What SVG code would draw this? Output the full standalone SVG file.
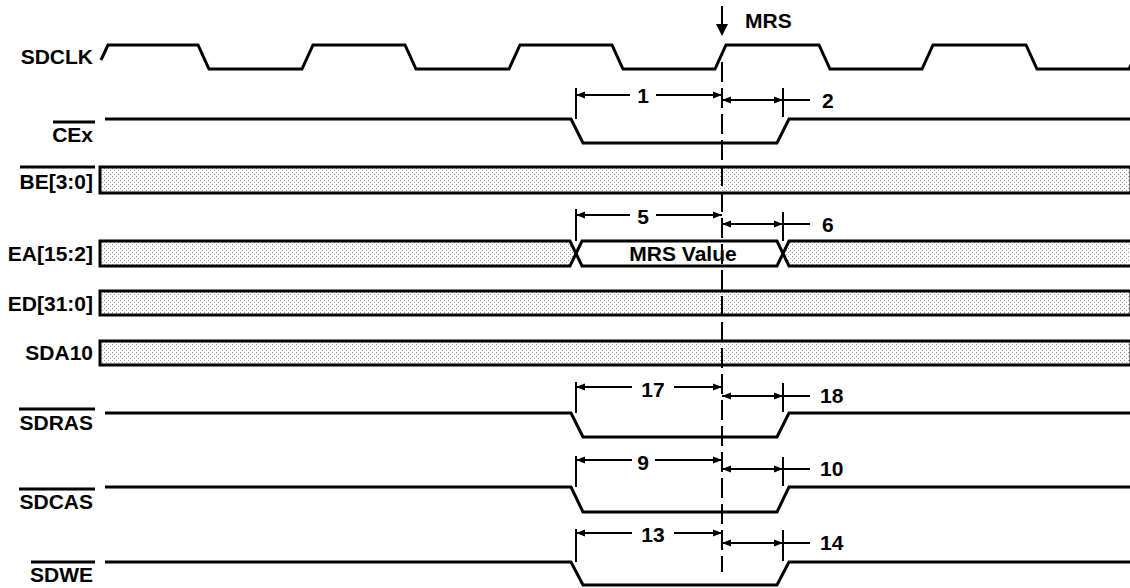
<svg xmlns="http://www.w3.org/2000/svg" width="1130" height="588" viewBox="0 0 1130 588">
<style>
.sig{fill:none;stroke:#000;stroke-width:3;stroke-linejoin:miter}
.bus{stroke:#000;stroke-width:3}
.lbl{font-family:"Liberation Sans",Arial,sans-serif;font-weight:bold;font-size:21px;fill:#000;text-anchor:end}
.num{font-family:"Liberation Sans",Arial,sans-serif;font-weight:bold;font-size:21px;fill:#000}
.ovl{stroke:#000;stroke-width:3}
.dim{stroke:#000;stroke-width:2;fill:none}
.ext{stroke:#000;stroke-width:2}
</style>
<defs>
<pattern id="hatch" width="4" height="4" patternUnits="userSpaceOnUse">
<rect width="4" height="4" fill="#fff"/>
<rect x="0" y="0" width="1" height="1" fill="#999"/>
<rect x="2" y="2" width="1" height="1" fill="#999"/>
</pattern>
<marker id="ah" viewBox="0 0 10 8" refX="10" refY="4" markerWidth="9" markerHeight="8" markerUnits="userSpaceOnUse" orient="auto-start-reverse">
<path d="M0,0 L10,4 L0,8 z" fill="#000"/>
</marker>
</defs>
<rect width="1130" height="588" fill="#fff"/>

<g id="sdclk">
<text class="lbl" x="93" y="64">SDCLK</text>
<path class="sig" d="M101,60 L108,45 L198,45 L209,69 L302,69 L313,45 L405,45 L416,69 L509,69 L520,45 L612,45 L623,69 L715,69 L726,45 L819,45 L830,69 L922,69 L933,45 L1026,45 L1037,69 L1129,69 L1131,65"/>
</g>

<g id="mrs">
<line x1="722" y1="6" x2="722" y2="28" stroke="#000" stroke-width="2"/>
<path d="M716,24 L728,24 L722,36 z" fill="#000"/>
<text class="num" x="745" y="28">MRS</text>
</g>

<g id="cex">
<text class="lbl" x="93" y="142">CEx</text>
<line class="ovl" x1="53" y1="122" x2="95" y2="122"/>
<path class="sig" d="M105,119 L571,119 L583,143 L777,143 L789,119 L1130,119"/>
</g>

<g id="be">
<text class="lbl" x="93" y="189">BE[3:0]</text>
<line class="ovl" x1="20" y1="167" x2="95" y2="167"/>
<path d="M100,167 L1131,167 L1131,193 L100,193 z" fill="url(#hatch)" class="bus"/>
</g>

<g id="ea">
<text class="lbl" x="93" y="261">EA[15:2]</text>
<path d="M100,241 L570,241 L576,253.5 L570,266 L100,266 z" fill="url(#hatch)" class="bus"/>
<path d="M576,253.5 L582,241 L777,241 L783,253.5 L777,266 L582,266 z" fill="#fff" class="bus"/>
<path d="M1131,241 L789,241 L783,253.5 L789,266 L1131,266" fill="url(#hatch)" class="bus"/>
<text class="num" x="683" y="261" text-anchor="middle">MRS Value</text>
</g>

<g id="ed">
<text class="lbl" x="93" y="311">ED[31:0]</text>
<path d="M100,291 L1131,291 L1131,315 L100,315 z" fill="url(#hatch)" class="bus"/>
</g>

<g id="sda10">
<text class="lbl" x="93" y="360">SDA10</text>
<path d="M100,341 L1131,341 L1131,365 L100,365 z" fill="url(#hatch)" class="bus"/>
</g>

<g id="sdras">
<text class="lbl" x="93" y="430">SDRAS</text>
<line class="ovl" x1="19" y1="409" x2="95" y2="409"/>
<path class="sig" d="M105,413 L571,413 L583,437 L777,437 L789,413 L1130,413"/>
</g>

<g id="sdcas">
<text class="lbl" x="93" y="509">SDCAS</text>
<line class="ovl" x1="19" y1="489" x2="95" y2="489"/>
<path class="sig" d="M105,487 L571,487 L583,512 L777,512 L789,487 L1130,487"/>
</g>

<g id="sdwe">
<text class="lbl" x="93" y="582">SDWE</text>
<line class="ovl" x1="31" y1="562" x2="95" y2="562"/>
<path class="sig" d="M105,562 L571,562 L583,585 L777,585 L789,562 L1130,562"/>
</g>

<g id="connectors">
<line x1="722" y1="62" x2="722" y2="572" stroke="#000" stroke-width="2" stroke-dasharray="20 6"/>

<line class="ext" x1="576" y1="88" x2="576" y2="119"/>
<line class="ext" x1="783" y1="88" x2="783" y2="117"/>
<line class="dim" x1="630" y1="95" x2="576" y2="95" marker-end="url(#ah)"/>
<line class="dim" x1="656" y1="95" x2="722" y2="95" marker-end="url(#ah)"/>
<text class="num" x="643" y="103" text-anchor="middle">1</text>
<line class="dim" x1="722" y1="100" x2="783" y2="100" marker-start="url(#ah)" marker-end="url(#ah)"/>
<line class="dim" x1="783" y1="100" x2="810" y2="100"/>
<text class="num" x="822" y="108">2</text>

<line class="ext" x1="576" y1="209" x2="576" y2="241"/>
<line class="ext" x1="783" y1="212" x2="783" y2="241"/>
<line class="dim" x1="630" y1="215" x2="576" y2="215" marker-end="url(#ah)"/>
<line class="dim" x1="656" y1="215" x2="722" y2="215" marker-end="url(#ah)"/>
<text class="num" x="643" y="224" text-anchor="middle">5</text>
<line class="dim" x1="722" y1="224" x2="783" y2="224" marker-start="url(#ah)" marker-end="url(#ah)"/>
<line class="dim" x1="783" y1="224" x2="810" y2="224"/>
<text class="num" x="822" y="232">6</text>

<line class="ext" x1="576" y1="382" x2="576" y2="413"/>
<line class="ext" x1="783" y1="383" x2="783" y2="412"/>
<line class="dim" x1="632" y1="387" x2="576" y2="387" marker-end="url(#ah)"/>
<line class="dim" x1="674" y1="387" x2="722" y2="387" marker-end="url(#ah)"/>
<text class="num" x="653" y="397" text-anchor="middle">17</text>
<line class="dim" x1="722" y1="396" x2="783" y2="396" marker-start="url(#ah)" marker-end="url(#ah)"/>
<line class="dim" x1="783" y1="396" x2="810" y2="396"/>
<text class="num" x="820" y="403">18</text>

<line class="ext" x1="576" y1="456" x2="576" y2="487"/>
<line class="ext" x1="783" y1="457" x2="783" y2="486"/>
<line class="dim" x1="632" y1="460" x2="576" y2="460" marker-end="url(#ah)"/>
<line class="dim" x1="655" y1="460" x2="722" y2="460" marker-end="url(#ah)"/>
<text class="num" x="643" y="470" text-anchor="middle">9</text>
<line class="dim" x1="722" y1="469" x2="783" y2="469" marker-start="url(#ah)" marker-end="url(#ah)"/>
<line class="dim" x1="783" y1="469" x2="810" y2="469"/>
<text class="num" x="820" y="476">10</text>

<line class="ext" x1="576" y1="529" x2="576" y2="562"/>
<line class="ext" x1="783" y1="530" x2="783" y2="561"/>
<line class="dim" x1="632" y1="533" x2="576" y2="533" marker-end="url(#ah)"/>
<line class="dim" x1="674" y1="533" x2="722" y2="533" marker-end="url(#ah)"/>
<text class="num" x="653" y="542" text-anchor="middle">13</text>
<line class="dim" x1="722" y1="543" x2="783" y2="543" marker-start="url(#ah)" marker-end="url(#ah)"/>
<line class="dim" x1="783" y1="543" x2="810" y2="543"/>
<text class="num" x="820" y="550">14</text>
</g>
</svg>
